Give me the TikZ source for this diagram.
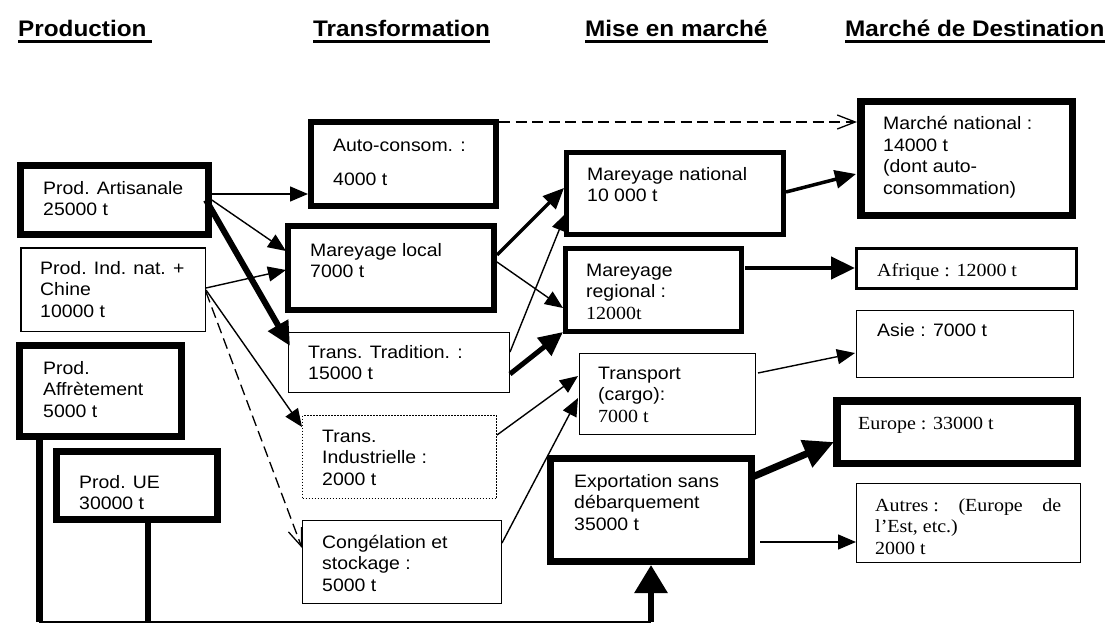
\documentclass[tikz,border=0pt]{standalone}
\usepackage{fontspec}
\setmainfont{Liberation Sans}[FakeStretch=1.08]
\newfontfamily\tms{Liberation Serif}[FakeStretch=1.08]
\usetikzlibrary{arrows.meta}
\begin{document}
\begin{tikzpicture}[x=1pt,y=-1pt,
  bx/.style={draw, inner sep=0pt, outer sep=0pt},
  txt/.style={inner sep=0pt, anchor=base west, font=\fontsize{18}{21.5}\selectfont},
  tx/.style={inner sep=0pt, anchor=base west, font=\tms\fontsize{18.5}{21.5}\selectfont},
  hdr/.style={inner sep=0pt, anchor=base west, font=\bfseries\fontsize{22.5}{26}\selectfont},
  ul/.style={line width=2.5pt},
  thin arrow/.style={line width=1.4pt, -{Triangle[length=18pt,width=15pt]}},
  mid arrow/.style={line width=3.2pt, -{Triangle[length=21pt,width=18pt]}},
  big arrow/.style={line width=5pt, -{Triangle[length=24pt,width=22pt]}},
  huge arrow/.style={line width=7pt, -{Triangle[length=30pt,width=28pt]}},
  open arrow/.style={line width=1.3pt, dash pattern=on 11pt off 5.5pt, -{Straight Barb[length=18pt,width=14pt,line width=1.3pt]}}
]
\useasboundingbox (0,0) rectangle (1113,623);
\fill[white] (0,0) rectangle (1113,623);

% headers
\node[hdr] (h1) at (18,37) {Production};
\node[hdr] (h2) at (313,37) {Transformation};
\node[hdr] (h3) at (585,37) {Mise en marché};
\node[hdr] (h4) at (845,37) {Marché de Destination};
\draw[ul] (18,41.5) -- (152,41.5);
\draw[ul] ([yshift=-4.5pt]h2.base west) -- ([yshift=-4.5pt]h2.base east);
\draw[ul] ([yshift=-4.5pt]h3.base west) -- ([yshift=-4.5pt]h3.base east);
\draw[ul] ([yshift=-4.5pt]h4.base west) -- ([yshift=-4.5pt]h4.base east);

% boxes
\node[bx, line width=7pt, minimum width=188pt, minimum height=69pt] (art) at (114.5,200) {};
\node[bx, line width=1.5pt, minimum width=184.5pt, minimum height=83.5pt] (ind) at (113,289.5) {};
\node[bx, line width=7pt, minimum width=162pt, minimum height=91pt] (aff) at (100.5,391) {};
\node[bx, line width=7pt, minimum width=161pt, minimum height=68pt] (ue) at (137,485.5) {};
\node[bx, line width=6pt, minimum width=185pt, minimum height=84pt] (auto) at (403.5,164) {};
\node[bx, line width=6.5pt, minimum width=206pt, minimum height=84pt] (mloc) at (391,268) {};
\node[bx, line width=1.5pt, minimum width=221pt, minimum height=60pt] (trad) at (399,362.5) {};
\node[bx, line width=1.5pt, dash pattern=on 1.5pt off 1.5pt, minimum width=194pt, minimum height=83pt] (tind) at (399.5,457) {};
\node[bx, line width=1.5pt, minimum width=199pt, minimum height=83pt] (cong) at (402,562) {};
\node[bx, line width=5pt, minimum width=217pt, minimum height=82pt] (mnat) at (675,193.5) {};
\node[bx, line width=5pt, minimum width=176pt, minimum height=83pt] (mreg) at (653.5,290) {};
\node[bx, line width=1.5pt, minimum width=176pt, minimum height=81pt] (transp) at (667.5,394) {};
\node[bx, line width=7pt, minimum width=201pt, minimum height=103pt] (exp) at (651,510) {};
\node[bx, line width=7.5pt, minimum width=211.5pt, minimum height=113.5pt] (mnatd) at (966.5,158.5) {};
\node[bx, line width=3.3pt, minimum width=220pt, minimum height=40pt] (afr) at (966.5,268.5) {};
\node[bx, line width=1.5pt, minimum width=217pt, minimum height=67pt] (asie) at (965,344) {};
\node[bx, line width=7.5pt, minimum width=240.5pt, minimum height=62.5pt] (eur) at (957,432) {};
\node[bx, line width=1.5pt, minimum width=224pt, minimum height=79pt] (autres) at (968.5,523) {};

% texts
\node[txt] (t-art) at (43,194) {\vtop{\hbox{Prod. Artisanale}\hbox{25000 t}}};
\node[txt] (t-ind) at (40,274) {\vtop{\hbox{Prod. Ind. nat. +}\hbox{Chine}\hbox{10000 t}}};
\node[txt] (t-aff) at (43,374) {\vtop{\hbox{Prod.}\hbox{Affrètement}\hbox{5000 t}}};
\node[txt] (t-ue) at (79,488) {\vtop{\hbox{Prod. UE}\hbox{30000 t}}};
\node[txt] (t-auto) at (333,151) {\vtop{\hbox{Auto-consom. :}\vskip 12.5pt\hbox{4000 t}}};
\node[txt] (t-mloc) at (310,256) {\vtop{\hbox{Mareyage local}\hbox{7000 t}}};
\node[txt] (t-trad) at (308,358) {\vtop{\hbox{Trans. Tradition. :}\hbox{15000 t}}};
\node[txt] (t-tind) at (322,442) {\vtop{\hbox{Trans.}\hbox{Industrielle :}\hbox{2000 t}}};
\node[txt] (t-cong) at (322,548) {\vtop{\hbox{Congélation et}\hbox{stockage :}\hbox{5000 t}}};
\node[txt] (t-mnat) at (587,180) {\vtop{\hbox{Mareyage national}\hbox{10 000 t}}};
\node[txt] (t-mreg) at (586,276) {\vtop{\hbox{Mareyage}\hbox{regional :}\hbox{\tms\fontsize{18.5}{21.5}\selectfont 12000t}}};
\node[txt] (t-transp) at (598,379) {\vtop{\hbox{Transport}\hbox{(cargo):}\hbox{\tms\fontsize{18.5}{21.5}\selectfont 7000 t}}};
\node[txt] (t-exp) at (574,487) {\vtop{\hbox{Exportation sans}\hbox{débarquement}\hbox{35000 t}}};
\node[txt] (t-mnatd) at (883,130) {\vtop{\hbox{Marché national :}\hbox{14000 t}\hbox{(dont auto-}\hbox{consommation)}}};
\node[tx] (t-afr) at (877,276) {Afrique : 12000 t};
\node[txt] (t-asie) at (877,336) {Asie : 7000 t};
\node[tx] (t-eur) at (858,429) {Europe : 33000 t};
\node[tx] (t-autres) at (875,511) {\vtop{\hbox to 186pt{Autres :\hfill(Europe\hfill de}\hbox{l’Est, etc.)}\hbox{2000 t}}};

% connector end points
\coordinate (a1s) at (206,194);  \coordinate (a1e) at (308,194);
\coordinate (a2s) at (206,196);  \coordinate (a2e) at (286,251);
\coordinate (a3s) at (206,200);  \coordinate (a3e) at (290,346);
\coordinate (a4s) at (206,288);  \coordinate (a4e) at (286,270);
\coordinate (a5s) at (206,290);  \coordinate (a5e) at (302,427);
\coordinate (a6s) at (206,292);  \coordinate (a6e) at (302,548);
\coordinate (a7s) at (497,255);  \coordinate (a7e) at (564,188);
\coordinate (a8s) at (497,262);  \coordinate (a8e) at (563,308);
\coordinate (a9s) at (510,352);  \coordinate (a9e) at (566,213);
\coordinate (a10s) at (510,374); \coordinate (a10e) at (563,332);
\coordinate (a11s) at (497,435); \coordinate (a11e) at (578,376);
\coordinate (a12s) at (502,543); \coordinate (a12e) at (578,398);
\coordinate (a13s) at (499,122); \coordinate (a13e) at (857,122);
\coordinate (a14s) at (786,192); \coordinate (a14e) at (856,174);
\coordinate (a15s) at (745,268); \coordinate (a15e) at (855,268);
\coordinate (a16s) at (758,373); \coordinate (a16e) at (855,353);
\coordinate (a17s) at (750,478); \coordinate (a17e) at (834,442);
\coordinate (a18s) at (760,542); \coordinate (a18e) at (856,542);
\coordinate (b1s) at (39,437);   \coordinate (b1e) at (39,622);
\coordinate (b2s) at (148,520);  \coordinate (b2e) at (148,622);
\coordinate (b3s) at (651,622);  \coordinate (b3e) at (651,565);

% connectors
\draw[thin arrow] (a1s) -- (a1e);
\draw[thin arrow] (a2s) -- (a2e);
\draw[big arrow, line width=6pt] (a3s) -- (a3e);
\draw[thin arrow] (a4s) -- (a4e);
\draw[thin arrow] (a5s) -- (a5e);
\draw[open arrow] (a6s) -- (a6e);
\draw[mid arrow] (a7s) -- (a7e);
\draw[thin arrow] (a8s) -- (a8e);
\draw[thin arrow] (a9s) -- (a9e);
\draw[big arrow] (a10s) -- (a10e);
\draw[thin arrow] (a11s) -- (a11e);
\draw[thin arrow] (a12s) -- (a12e);
\draw[open arrow] (a13s) -- (a13e);
\draw[mid arrow, line width=3.5pt] (a14s) -- (a14e);
\draw[big arrow, line width=4.5pt] (a15s) -- (a15e);
\draw[thin arrow] (a16s) -- (a16e);
\draw[huge arrow] (a17s) -- (a17e);
\draw[thin arrow] (a18s) -- (a18e);
\draw[line width=7pt] (b1s) -- (b1e);
\draw[line width=5.5pt] (b2s) -- (b2e);
\draw[line width=1.5pt] (b1e) -- (b3s);
\draw[line width=6pt, -{Triangle[length=28pt,width=32pt]}] (b3s) -- (b3e);
\end{tikzpicture}
\end{document}
